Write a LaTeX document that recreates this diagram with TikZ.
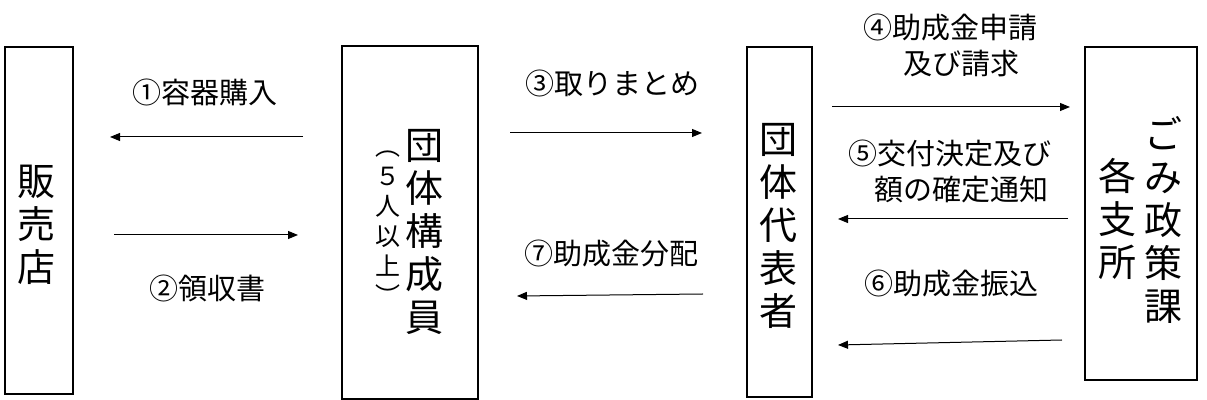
\documentclass[tikz,border=0pt]{standalone}
\usepackage{fontspec}
\newfontfamily\jp{Noto Sans CJK JP}
\usetikzlibrary{arrows.meta}
\tikzset{
  box/.style={draw,line width=1pt,inner sep=0pt},
  boxtext/.style={font=\jp\fontsize{19}{21.5}\selectfont,align=center,inner sep=0pt},
  subtext/.style={font=\jp\fontsize{12.5}{15}\selectfont,align=center,inner sep=0pt},
  flowlabel/.style={font=\jp\fontsize{14.5}{18}\selectfont,align=center,inner sep=0pt},
  flow/.style={-{Triangle[length=5pt,width=4pt]},line width=0.5pt}
}
\begin{document}
\begin{tikzpicture}[x=0.5pt,y=-0.5pt]
  \useasboundingbox (0,0) rectangle (1207,400);
  % boxes
  \node[box,minimum width=34pt,minimum height=173.5pt] (shop) at (39,220.5) {};
  \node[box,minimum width=68pt,minimum height=176.5pt] (member) at (410,222.5) {};
  \node[box,minimum width=32.5pt,minimum height=175pt] (rep) at (779.5,222) {};
  \node[box,minimum width=56pt,minimum height=166.5pt] (city) at (1141,213.5) {};
  % vertical texts
  \node[boxtext] (shoptext) at (37,225) {販\\売\\店};
  \node[boxtext] (membertext) at (424,232) {団\\体\\構\\成\\員};
  \node[subtext] (membersub) at (388,228) {︵\\５\\人\\以\\上\\︶};
  \node[boxtext] (reptext) at (778,226) {団\\体\\代\\表\\者};
  \node[boxtext] (citytext) at (1163,220) {ご\\み\\政\\策\\課};
  \node[boxtext] (branchtext) at (1117,219) {各\\支\\所};
  % arrow ends
  \coordinate (a1s) at (303,137);  \coordinate (a1e) at (110,137);
  \coordinate (a2s) at (114,235);  \coordinate (a2e) at (298,235);
  \coordinate (a3s) at (510,133);  \coordinate (a3e) at (702,133);
  \coordinate (a7s) at (703,294);  \coordinate (a7e) at (517,296);
  \coordinate (a4s) at (832,107);  \coordinate (a4e) at (1070,107);
  \coordinate (a5s) at (1068,219); \coordinate (a5e) at (838,219);
  \coordinate (a6s) at (1062,340); \coordinate (a6e) at (838,345);
  \draw[flow] (a1s) -- (a1e);
  \draw[flow] (a2s) -- (a2e);
  \draw[flow] (a3s) -- (a3e);
  \draw[flow] (a7s) -- (a7e);
  \draw[flow] (a4s) -- (a4e);
  \draw[flow] (a5s) -- (a5e);
  \draw[flow] (a6s) -- (a6e);
  % labels
  \node[flowlabel] (l1) at (205,92) {①容器購入};
  \node[flowlabel] (l2) at (207,288) {②領収書};
  \node[flowlabel] (l3) at (612,83) {③取りまとめ};
  \node[flowlabel] (l7) at (611,253) {⑦助成金分配};
  \node[flowlabel] (l4) at (950,45) {④助成金申請\\\hspace*{11pt}及び請求};
  \node[flowlabel] (l5) at (950,171) {⑤交付決定及び\\\hspace*{11pt}額の確定通知};
  \node[flowlabel] (l6) at (951,283) {⑥助成金振込};
\end{tikzpicture}
\end{document}
